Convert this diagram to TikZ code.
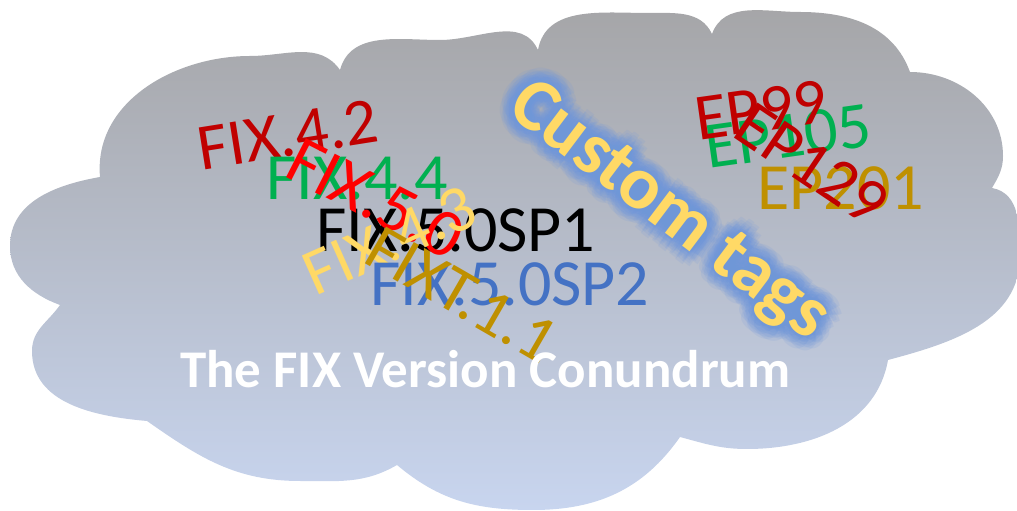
\documentclass[tikz,border=0pt]{standalone}
\usepackage{fontspec}
\setmainfont{Carlito}
\usetikzlibrary{calc}
\definecolor{fixred}{HTML}{C00000}
\definecolor{brightred}{HTML}{FF0000}
\definecolor{fixgreen}{HTML}{00B050}
\definecolor{softyellow}{HTML}{FFD966}
\definecolor{fixgold}{HTML}{BF9000}
\definecolor{fixblue}{HTML}{4472C4}
\definecolor{glowblue}{HTML}{6F97DE}
\definecolor{cloudtop}{HTML}{A5A5A7}
\definecolor{cloudmid}{HTML}{AAB8DA}
\definecolor{cloudbot}{HTML}{C8D5EF}
\tikzset{
  vtag/.style={inner sep=0pt, font=\fontsize{66}{66}\selectfont},
  ctag/.style={inner sep=0pt, rotate=-37, font=\bfseries\fontsize{75}{75}\selectfont, text=softyellow},
  ctglow/.style={ctag, text=glowblue, text opacity=0.14},
  titletext/.style={inner sep=0pt, text=white, font=\bfseries\fontsize{53}{53}\selectfont},
  cloudfill/.style={top color=cloudtop, middle color=cloudmid, bottom color=cloudbot}
}

\begin{document}
\begin{tikzpicture}[x=1pt,y=1pt]
  \useasboundingbox (0,0) rectangle (1017,511);
  % the cloud
  \shade[cloudfill] (100,334) to[out=95,in=180] (250,455) to[out=0,in=125] (340,441)
    to[out=75,in=180] (440,471) to[out=0,in=115] (538,461)
    to[out=80,in=180] (648,498) to[out=0,in=115] (712,477)
    to[out=70,in=180] (800,499) to[out=0,in=110] (910,439)
    to[out=0,in=90] (1003,355) to[out=270,in=60] (992,323)
    to[out=-10,in=90] (1020,255) to[out=270,in=15] (888,151)
    to[out=260,in=0] (747,62) to[out=180,in=-15] (680,74)
    to[out=235,in=0] (533,1) to[out=180,in=-40] (397,46)
    to[out=210,in=0] (300,30) to[out=180,in=-35] (147,90)
    to[out=175,in=270] (32,160) to[out=90,in=235] (60,206)
    to[out=160,in=270] (10,265) to[out=90,in=190] cycle;

  % FIX versions
  \node[vtag, text=fixred, rotate=9] (f42) at (288,376) {FIX.4.2};
  \node[vtag, text=fixgreen, anchor=base west] (f44) at (266,311) {FIX.4.4};
  \node[vtag, text=black, anchor=base west] (f50sp1) at (316,259) {FIX.5.0SP1};
  \node[vtag, text=brightred, rotate=-27, font=\fontsize{68}{68}\selectfont] (f50) at (376,312) {FIX.5.0};
  \node[vtag, text=softyellow, rotate=24] (f43) at (390,271) {FIX.4.3};
  \node[vtag, text=fixblue, anchor=base west] (f50sp2) at (370,205) {FIX.5.0SP2};
  \node[vtag, text=fixgold, rotate=-30] (fixt) at (462,216) {FIXT.1.1};

  % extension packs
  \node[vtag, text=fixgreen, rotate=8] (ep105) at (788,375) {EP105};
  \node[vtag, text=fixred, rotate=8] (ep99) at (761,401) {EP99};
  \node[vtag, text=fixgold, anchor=base west] (ep201) at (757,301) {EP201};
  \node[vtag, text=fixred, rotate=-34] (ep129) at (812,347) {EP129};

  % custom tags, with a soft glow behind
  \coordinate (ctc) at (668,299);
  \foreach \r in {3,6,9,12,15}
    \foreach \a in {0,30,...,330}
      \node[ctglow] (glow\r-\a) at ($(ctc)+(\a:\r)$) {Custom tags};
  \node[ctag] (ct) at (ctc) {Custom tags};

  \node[titletext, anchor=base west] (title) at (180,123) {The FIX Version Conundrum};
\end{tikzpicture}
\end{document}
